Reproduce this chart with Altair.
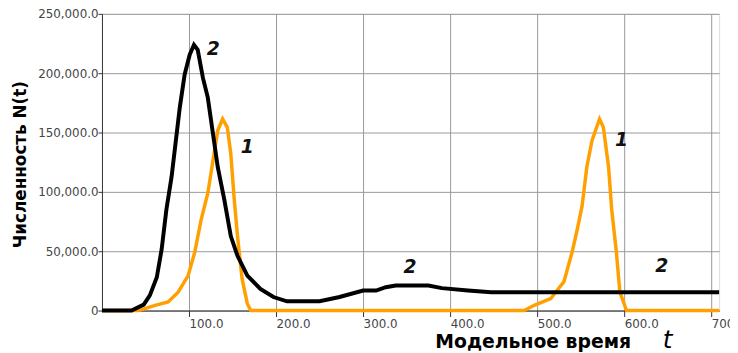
import altair as alt
import pandas as pd

# Series 1 (orange)
t1 = [0, 42, 61, 76, 87.5, 99, 106.5, 114, 121.6, 127, 133, 138.6, 144, 148, 152, 155.7, 161, 167, 171,
      485, 496.6, 515.5, 530.7, 540, 546, 551.5, 557, 563, 571.6, 576, 582, 585.6, 591, 595, 602.6, 709]
n1 = [0, 0, 4400, 7200, 15500, 29400, 48900, 76700, 98900, 123900, 151700, 161400, 154400, 132200, 93300, 62800, 26700, 5800, 0,
      0, 4400, 10000, 24400, 48900, 68300, 87800, 121000, 143300, 161400, 154400, 121000, 85000, 48900, 15500, 0, 0]

# Series 2 (black)
t2 = [0, 34, 48, 55, 63, 68.6, 74, 80, 84.5, 89.4, 95, 100.8, 105.7, 110, 116, 121.6, 127, 133, 140.6, 148, 155.7,
      167, 182, 197, 212.5, 250, 273, 300, 315, 326, 337.5, 375, 390.5, 420.5, 447, 709]
n2 = [0, 0, 5000, 12800, 28000, 51700, 85000, 112800, 140800, 171000, 198900, 215600, 223900, 219700, 196000, 179400, 151700, 121000, 93300, 62800, 46100,
      29400, 18300, 11400, 7800, 7800, 11400, 16900, 16900, 19700, 21100, 21100, 18900, 16900, 15500, 15500]

# Curve labels
lab_text = ["2", "1", "2", "1", "2"]
lab_t = [128, 167, 354, 597, 643]
lab_n = [220000, 138000, 36700, 144000, 37500]

x_ticks = [100, 200, 300, 400, 500, 600, 700]
y_ticks = [0, 50000, 100000, 150000, 200000, 250000]

df1 = pd.DataFrame({"t": t1, "n": n1})
df2 = pd.DataFrame({"t": t2, "n": n2})
dfl = pd.DataFrame({"t": lab_t, "n": lab_n, "s": lab_text})

xs = alt.Scale(domain=[0, 709], nice=False, zero=False)
ys = alt.Scale(domain=[0, 250000], nice=False)

xax = alt.Axis(values=x_ticks, format=".1f", labelAlign="left", labelFontSize=12,
               labelColor="#444", labelFont="DejaVu Sans", tickSize=6, tickColor="#333",
               domainColor="#333", gridColor="#999", labelPadding=2, title=None, labelBound=False,
               labelOverlap=False)
yax = alt.Axis(values=y_ticks,
               labelExpr="datum.value == 0 ? '0' : format(datum.value, ',.1f')",
               labelFontSize=12, labelColor="#444", labelFont="DejaVu Sans", tickSize=4,
               tickColor="#333", domainColor="#333", gridColor="#999", labelPadding=0,
               title="Численность N(t)", titleFont="DejaVu Sans", titleFontSize=17,
               titleFontWeight="bold", titleColor="#000", titleX=-82, titleY=152,
               titleAngle=-90, titleBaseline="middle", titleAlign="center")

orange = alt.Chart(df1).mark_line(color="#FFA000", strokeWidth=3.5).encode(
    x=alt.X("t:Q", scale=xs, axis=xax),
    y=alt.Y("n:Q", scale=ys, axis=yax),
)
black = alt.Chart(df2).mark_line(color="#000000", strokeWidth=4).encode(
    x=alt.X("t:Q", scale=xs),
    y=alt.Y("n:Q", scale=ys),
)
labels = alt.Chart(dfl).mark_text(font="DejaVu Sans", fontSize=19, fontWeight="bold",
                                  fontStyle="italic", color="#111").encode(
    x=alt.X("t:Q", scale=xs),
    y=alt.Y("n:Q", scale=ys),
    text="s:N",
)
xtitle = alt.Chart(pd.DataFrame({"a": [1]})).mark_text(
    text="Модельное время", font="DejaVu Sans", fontSize=19, fontWeight="bold",
    color="#000", baseline="alphabetic", align="center").encode(
    x=alt.value(436), y=alt.value(338))
tsym = alt.Chart(pd.DataFrame({"a": [1]})).mark_text(
    text="t", font="DejaVu Sans", fontSize=25, fontStyle="italic",
    color="#000", baseline="alphabetic", align="center").encode(
    x=alt.value(572), y=alt.value(338))

chart = alt.layer(orange, black, labels, xtitle, tsym).properties(
    width=624, height=300,
    autosize=alt.AutoSizeParams(type="none"),
    padding={"left": 95, "top": 4, "right": 11, "bottom": 41},
).configure_view(stroke="#333", strokeWidth=1).configure(background="white")

chart.save("out.html", embed_options={"renderer": "svg", "actions": False})
